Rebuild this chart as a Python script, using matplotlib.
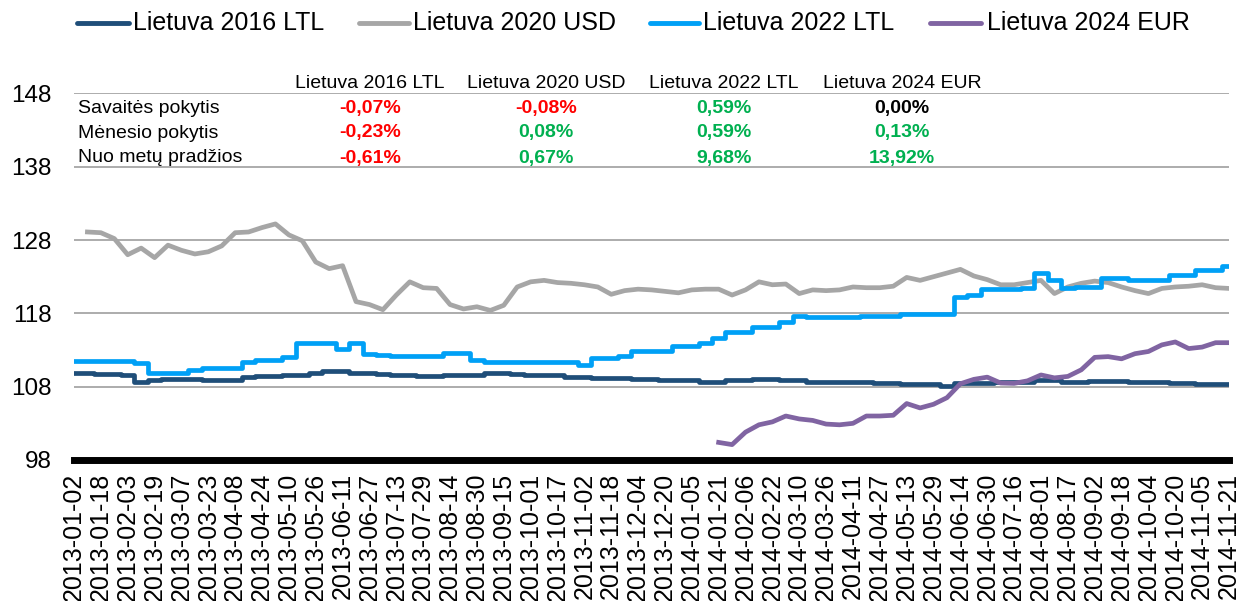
import matplotlib
matplotlib.use("Agg")
import matplotlib.pyplot as plt
import numpy as np
import pandas as pd
from matplotlib.lines import Line2D

plt.rcParams['font.family'] = ['Liberation Sans', 'DejaVu Sans']

# dates every 8 days, 2013-01-02 .. 2014-11-21
dates = pd.date_range('2013-01-02', periods=87, freq='8D')
nan = np.nan

lt2016 = [109.9, 109.8, 109.7, 109.7, 109.55, 108.6, 108.9, 109.0, 109.1, 109.1,
          108.9, 108.9, 108.95, 109.3, 109.5, 109.45, 109.65, 109.6, 109.9, 110.1,
          110.1, 109.8, 109.8, 109.7, 109.55, 109.55, 109.4, 109.4, 109.65, 109.6,
          109.6, 109.8, 109.8, 109.75, 109.6, 109.6, 109.55, 109.35, 109.35, 109.2,
          109.2, 109.15, 109.0, 109.0, 108.85, 108.85, 108.85, 108.7, 108.7, 108.85,
          108.85, 109.1, 109.1, 108.9, 108.9, 108.7, 108.7, 108.7, 108.7, 108.7,
          108.5, 108.5, 108.4, 108.35, 108.35, 108.1, 108.45, 108.45, 108.5, 108.6,
          108.6, 108.6, 108.85, 108.9, 108.7, 108.7, 108.75, 108.8, 108.8, 108.6,
          108.6, 108.6, 108.55, 108.55, 108.35, 108.3, 108.3]

lt2020 = [nan, 129.1, 129.0, 128.2, 126.0, 126.9, 125.6, 127.3, 126.6, 126.1,
          126.4, 127.2, 129.0, 129.1, 129.7, 130.2, 128.7, 127.9, 125.0, 124.1,
          124.5, 119.6, 119.2, 118.5, 120.5, 122.3, 121.5, 121.4, 119.2, 118.6,
          118.9, 118.4, 119.1, 121.6, 122.3, 122.5, 122.2, 122.1, 121.9, 121.6,
          120.6, 121.1, 121.3, 121.2, 121.0, 120.8, 121.2, 121.3, 121.3, 120.5,
          121.2, 122.3, 121.9, 122.0, 120.7, 121.2, 121.1, 121.2, 121.6, 121.5,
          121.5, 121.7, 122.9, 122.5, 123.0, 123.5, 124.0, 123.1, 122.6, 121.9,
          121.9, 122.2, 122.5, 120.7, 121.6, 122.1, 122.4, 122.2, 121.6, 121.1,
          120.7, 121.4, 121.6, 121.7, 121.9, 121.5, 121.4]

lt2022 = [111.5, 111.5, 111.5, 111.5, 111.5, 111.2, 109.9, 109.9, 109.9, 110.3,
          110.6, 110.6, 110.6, 111.3, 111.7, 111.7, 112.1, 114.0, 114.0, 114.0,
          113.1, 113.9, 112.5, 112.3, 112.2, 112.2, 112.2, 112.2, 112.6, 112.6,
          111.7, 111.3, 111.3, 111.3, 111.3, 111.3, 111.3, 111.3, 111.0, 111.9,
          111.9, 112.2, 112.85, 112.85, 112.85, 113.6, 113.6, 114.0, 114.7, 115.4,
          115.4, 116.2, 116.2, 116.8, 117.7, 117.45, 117.45, 117.45, 117.45, 117.7,
          117.7, 117.7, 117.9, 117.9, 117.9, 117.9, 120.2, 120.5, 121.3, 121.3,
          121.3, 121.4, 123.5, 122.6, 121.5, 121.6, 121.6, 122.8, 122.8, 122.5,
          122.5, 122.5, 123.2, 123.2, 123.9, 123.9, 124.5]

lt2024 = [nan] * 48 + [100.4, 100.1, 101.8, 102.8, 103.2, 104.0, 103.6, 103.4, 102.9, 102.8,
                       103.0, 104.0, 104.0, 104.1, 105.7, 105.1, 105.6, 106.5, 108.4, 109.0,
                       109.3, 108.5, 108.45, 108.8, 109.6, 109.2, 109.4, 110.3, 112.0, 112.1,
                       111.8, 112.5, 112.8, 113.7, 114.1, 113.2, 113.4, 114.0, 114.0]

names = ['Lietuva 2016 LTL', 'Lietuva 2020 USD', 'Lietuva 2022 LTL', 'Lietuva 2024 EUR']
colors = ['#1F4E79', '#A6A6A6', '#00A0F6', '#8064A2']

row_labels = ['Savaitės pokytis', 'Mėnesio pokytis', 'Nuo metų pradžios']
table_vals = [['-0,07%', '-0,08%', '0,59%', '0,00%'],
              ['-0,23%', '0,08%', '0,59%', '0,13%'],
              ['-0,61%', '0,67%', '9,68%', '13,92%']]

W, H = 1241, 601
fig = plt.figure(figsize=(W / 100, H / 100), dpi=100)
ax = fig.add_axes([74 / W, 1 - 460 / H, (1229 - 74) / W, (460 - 93.4) / H])

# LTL bonds move in steps, the others are noisier
styles = ['steps-mid', 'default', 'steps-mid', 'default']
for s, c, ds in zip([lt2016, lt2020, lt2022, lt2024], colors, styles):
    ax.plot(dates, s, color=c, lw=3.4, drawstyle=ds, solid_joinstyle='round', zorder=3)

ax.set_ylim(98, 148)
ax.set_yticks([98, 108, 118, 128, 138, 148])
ax.set_xlim(pd.Timestamp('2013-01-02'), pd.Timestamp('2014-11-21'))
ticks = pd.date_range('2013-01-02', '2014-11-21', freq='16D')
ax.set_xticks(ticks)
ax.set_xticklabels([t.strftime('%Y-%m-%d') for t in ticks], rotation=90, fontsize=18)
ax.tick_params(axis='y', length=0, pad=16, labelsize=17.5)
ax.tick_params(axis='x', length=0, pad=9)

for v in [108, 118, 128, 138, 148]:
    ax.axhline(v, color='#A6A6A6', lw=1.3, zorder=1)
for sp in ['left', 'right', 'top']:
    ax.spines[sp].set_visible(False)
ax.spines['bottom'].set_linewidth(5)
ax.spines['bottom'].set_color('black')
ax.spines['bottom'].set_zorder(5)

# legend drawn by hand
leg_y = 1 - 23 / H
handles = [(77, 129), (359, 409), (650, 699), (930, 981)]
text_x = [133, 413, 703, 987]
for (x0, x1), tx, n, c in zip(handles, text_x, names, colors):
    fig.add_artist(Line2D([x0 / W, x1 / W], [leg_y, leg_y], color=c, lw=3.5,
                          solid_capstyle='round', transform=fig.transFigure))
    fig.text(tx / W, leg_y, n, fontsize=18, va='center', ha='left')

# table on top of the plot
col_x = [370, 546, 724, 902]
row_y = [108, 133, 158]
for cx, n in zip(col_x, names):
    fig.text(cx / W, 1 - 83 / H, n, fontsize=14, ha='center', va='center')
for ry, lab, vals in zip(row_y, row_labels, table_vals):
    fig.text(78 / W, 1 - ry / H, lab, fontsize=14, ha='left', va='center')
    for cx, val in zip(col_x, vals):
        if val.startswith('-'):
            col = '#FF0000'
        elif val == '0,00%':
            col = 'black'
        else:
            col = '#00B050'
        fig.text(cx / W, 1 - ry / H, val, fontsize=14, fontweight='bold',
                 color=col, ha='center', va='center')

fig.savefig('out.png', dpi=100)
